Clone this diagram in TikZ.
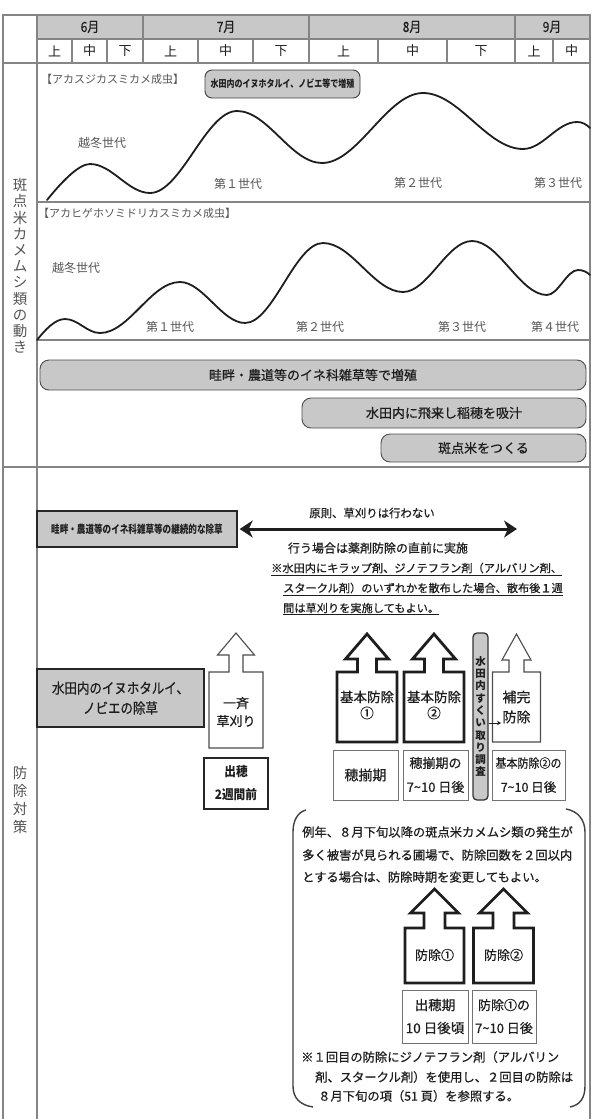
\documentclass[tikz,border=0pt]{standalone}
\usepackage{fontspec}
\usepackage{graphicx}
\setmainfont{Noto Sans CJK JP}
\newfontfamily\medfont{Noto Sans CJK JP}[FakeBold=0.6]
\usetikzlibrary{arrows.meta}
\newcommand{\cnd}[2][0.8]{\scalebox{#1}[1]{#2}}
\newcommand{\fs}[1]{\fontsize{#1}{#1}\selectfont}
\definecolor{boxgray}{HTML}{C8C8C8}
\definecolor{linegray}{HTML}{858585}
\definecolor{inkgray}{HTML}{555555}
\definecolor{ink}{HTML}{1E1E1E}
% block arrow: style, cx, half width, rect top, rect bottom, shaft half, head half, head base y, tip y
\newcommand{\blkarr}[9]{%
  \draw[#1] ({#2-#3},#5) -- ({#2-#3},#4) -- ({#2-#6},#4) -- ({#2-#6},#8) -- ({#2-#7},#8) -- (#2,#9) -- ({#2+#7},#8) -- ({#2+#6},#8) -- ({#2+#6},#4) -- ({#2+#3},#4) -- ({#2+#3},#5) -- cycle;}
\tikzset{
  tbl/.style={draw=linegray, line width=1.1pt},
  mon/.style={font=\medfont\fs{14}, text=ink},
  dek/.style={font=\fs{13}, text=ink},
  side/.style={font=\fontsize{14.5}{16.2}\selectfont, text=inkgray, align=center},
  plbl/.style={font=\fs{11}, text=inkgray, anchor=west},
  glbl/.style={font=\fs{12}, text=inkgray},
  wave/.style={line width=1.8pt, line cap=round, line join=round, draw=ink},
  gbar/.style={draw=black!70, line width=0.9pt, fill=boxgray, rounded corners=9pt, font=\medfont\fs{13}, text=ink},
  gbox/.style={draw=black!85, line width=1.4pt, fill=boxgray, text=ink, align=center},
  wbox/.style={draw=black!55, line width=1pt, fill=white, text=ink, align=center},
  thickarr/.style={draw=ink, line width=2.8pt, fill=white, line join=miter},
  thinarr/.style={draw=black!70, line width=1.1pt, fill=white, line join=miter},
  txt/.style={text=ink},
  dbl/.style={line width=3pt, draw=ink, {Stealth[length=13pt,width=17pt,inset=4pt]}-{Stealth[length=13pt,width=17pt,inset=4pt]}},
  brk/.style={draw=black!75, line width=1.4pt},
}
\begin{document}
\begin{tikzpicture}[x=1pt,y=-1pt, every node/.style={inner sep=0pt}]
\useasboundingbox (0,0) rectangle (592,1119);
\fill[white] (0,0) rectangle (592,1119);
% ---------- table frame ----------
\fill[boxgray] (37,15) rectangle (590,39);
\draw[tbl] (3,1119) -- (3,15) -- (590,15) -- (590,1119);
\draw[tbl] (37,15) -- (37,1119);
\draw[tbl] (37,39) -- (590,39);
\draw[tbl] (3,63) -- (590,63);
\foreach \x in {143,309,515} \draw[tbl] (\x,15) -- (\x,63);
\foreach \x in {72,107,198,253,378,447,553} \draw[tbl] (\x,39) -- (\x,63);
\draw[tbl] (37,202) -- (590,202);
\draw[tbl] (37,340) -- (590,340);
\draw[tbl] (3,467) -- (590,467);
% months
\node[mon] (m6) at (90,27) {\cnd[0.85]{6月}};
\node[mon] (m7) at (226,27) {\cnd[0.85]{7月}};
\node[mon] (m8) at (412,27) {\cnd[0.85]{8月}};
\node[mon] (m9) at (552,27) {\cnd[0.85]{9月}};
% dekads
\foreach \x/\t/\n in {54.5/上/d1,89.5/中/d2,125/下/d3,170.5/上/d4,225.5/中/d5,281/下/d6,343.5/上/d7,412.5/中/d8,481/下/d9,534/上/d10,571.5/中/d11}
  \node[dek] (\n) at (\x,51) {\t};
% side labels
\node[side] (sl1) at (20,266) {斑\\点\\米\\カ\\メ\\ム\\シ\\類\\の\\動\\き};
\node[side, font=\fontsize{14.5}{18}\selectfont] (sl2) at (20,800) {防\\除\\対\\策};
% ---------- panel 1 ----------
\node[plbl] (pl1) at (41,79) {【アカスジカスミカメ成虫】};
\node[gbar, rounded corners=7pt, minimum width=155pt, minimum height=28pt, font=\bfseries\fs{10}, draw=black!75] (pb) at (282.5,84) {\cnd[0.8]{水田内のイヌホタルイ、ノビエ等で増殖}};
\draw[wave] (47,200) .. controls (60,184) and (78,164) .. (90,164) .. controls (112,164) and (128,193) .. (150,193) .. controls (181,193) and (206,111) .. (237,111) .. controls (268,111) and (291,163) .. (322,163) .. controls (358,163) and (387,93) .. (423,93) .. controls (459,93) and (487,149) .. (523,149) .. controls (543,149) and (557,122) .. (577,122) .. controls (582,122) and (586,124) .. (590,128);
\node[glbl] (g10) at (102,143) {越冬世代};
\node[glbl] (g11) at (238,184) {第１世代};
\node[glbl] (g12) at (418,183) {第２世代};
\node[glbl] (g13) at (558,183) {第３世代};
% ---------- panel 2 ----------
\node[plbl] (pl2) at (38,213) {【アカヒゲホソミドリカスミカメ成虫】};
\draw[wave] (37,340) .. controls (45,330) and (55,319) .. (65,319) .. controls (78,319) and (87,333) .. (100,333) .. controls (129,333) and (151,282) .. (180,282) .. controls (203,282) and (222,323) .. (245,323) .. controls (273,323) and (295,243) .. (323,243) .. controls (352,243) and (374,292) .. (403,292) .. controls (428,292) and (447,241) .. (472,241) .. controls (499,241) and (520,295) .. (547,295) .. controls (558,295) and (567,270) .. (578,270) .. controls (583,270) and (587,272) .. (590,275);
\node[glbl] (g20) at (76,268) {越冬世代};
\node[glbl] (g21) at (170,327) {第１世代};
\node[glbl] (g22) at (320,327) {第２世代};
\node[glbl] (g23) at (462,327) {第３世代};
\node[glbl] (g24) at (555,327) {第４世代};
% ---------- bars ----------
\node[gbar, minimum width=546pt, minimum height=30pt] (b1) at (313,375) {畦畔・農道等のイネ科雑草等で増殖};
\node[gbar, minimum width=284pt, minimum height=30pt] (b2) at (444,413) {水田内に飛来し稲穂を吸汁};
\node[gbar, minimum width=205pt, minimum height=28pt] (b3) at (483.5,448) {斑点米をつくる};
% ---------- control: weeding ----------
\node[gbox, minimum width=200pt, minimum height=36pt, font=\bfseries\fs{11}] (wb) at (137,529) {\cnd[0.78]{畦畔・農道等のイネ科雑草等の継続的な除草}};
\coordinate (ae) at (517,529);
\draw[dbl] ([xshift=2pt]wb.east) -- (ae);
\node[txt, font=\medfont\fs{11.4}] (p1) at (372,513) {原則、草刈りは行わない};
\node[txt, font=\medfont\fs{12}] (p2) at (378,548) {行う場合は薬剤防除の直前に実施};
\node[txt, font=\medfont\fs{11.2}, anchor=west] (u1) at (271,568) {※水田内にキラップ剤、ジノテフラン剤（アルバリン剤、};
\node[txt, font=\medfont\fs{11.2}, anchor=west] (u2) at (283,588) {スタークル剤）のいずれかを散布した場合、散布後１週};
\node[txt, font=\medfont\fs{11.2}, anchor=west] (u3) at (283,608) {間は草刈りを実施してもよい。};
\foreach \u in {u1,u2,u3}
  \draw[line width=0.8pt, draw=ink] ([yshift=-1.5pt]\u.south west) -- ([yshift=-1.5pt]\u.south east);
% ---------- control: paddy weeding ----------
\node[gbox, minimum width=167pt, minimum height=58pt, font=\medfont\fontsize{14.5}{20}\selectfont] (sb) at (120.5,698) {\cnd[0.86]{水田内のイヌホタルイ、}\\\cnd[0.86]{ノビエの除草}};
% block arrows
\blkarr{thinarr}{236}{27}{672}{748}{7}{18.5}{655}{633}
\blkarr{thickarr}{367}{30}{672}{742}{9.5}{21.5}{659}{634}
\blkarr{thickarr}{434}{30}{672}{742}{9.5}{21.5}{659}{634}
\blkarr{thinarr}{516.5}{24}{672}{742}{7.5}{14.5}{660}{634}
\node[txt, font=\medfont\fontsize{13}{18}\selectfont, align=center] (it) at (236,712) {一斉\\草刈り};
\node[txt, font=\medfont\fontsize{13.5}{16}\selectfont, align=center] (k1) at (367,705) {基本防除\\①};
\node[txt, font=\medfont\fontsize{13.5}{16}\selectfont, align=center] (k2) at (434,705) {基本防除\\②};
\node[txt, font=\medfont\fontsize{14}{20}\selectfont, align=center] (hk) at (516.5,707) {補完\\防除};
% survey bar
\node[draw=black!80, line width=1.3pt, fill=boxgray, rounded corners=4pt, minimum width=15pt, minimum height=167pt, font=\bfseries\fontsize{10.5}{12.3}\selectfont, align=center, text=ink] (sv) at (480.5,716.5) {水\\田\\内\\す\\く\\い\\取\\り\\調\\査};
\coordinate (sa) at (501,723);
\draw[-{Stealth[length=4pt,width=4.5pt]}, line width=0.9pt, draw=ink] (sv.east |- sa) -- (sa);
% timing boxes
\node[gbox, fill=white, line width=1.3pt, minimum width=64pt, minimum height=51pt, font=\bfseries\fontsize{13}{23}\selectfont] (db) at (236,783.5) {\cnd[0.9]{出穂}\\\cnd[0.9]{2週間前}};
\node[wbox, minimum width=65pt, minimum height=50pt, font=\medfont\fs{14}] (hb1) at (365.5,775) {穂揃期};
\node[wbox, minimum width=65pt, minimum height=50pt, font=\medfont\fontsize{13}{24}\selectfont] (hb2) at (435.5,775) {穂揃期の\\7\textasciitilde10 日後};
\node[wbox, minimum width=73pt, minimum height=50pt, font=\medfont\fontsize{12.5}{24}\selectfont] (hb3) at (528.5,775) {\cnd[0.88]{基本防除②の}\\7\textasciitilde10 日後};
% ---------- bracket note ----------
\draw[brk] (306,810) .. controls (298,812) and (293,820) .. (293,832) -- (293,1086) .. controls (293,1098) and (300,1105) .. (313,1107);
\draw[brk] (566,809) .. controls (578,811) and (585,820) .. (585,832) -- (585,1086) .. controls (585,1098) and (580,1105) .. (570,1107);
\node[txt, font=\medfont\fs{12.3}, anchor=west] (t1) at (302,832) {例年、８月下旬以降の斑点米カメムシ類の発生が};
\node[txt, font=\medfont\fs{12.3}, anchor=west] (t2) at (302,855) {多く被害が見られる圃場で、防除回数を２回以内};
\node[txt, font=\medfont\fs{12.3}, anchor=west] (t3) at (302,877) {とする場合は、防除時期を変更してもよい。};
\blkarr{thickarr}{434.5}{29.5}{928}{983}{10.5}{24}{913}{889}
\blkarr{thickarr}{503.5}{30}{928}{983}{10.5}{24}{913}{889}
\node[txt, font=\medfont\fs{13}] (j1) at (434.5,955) {防除①};
\node[txt, font=\medfont\fs{13}] (j2) at (503.5,955) {防除②};
\node[wbox, minimum width=66pt, minimum height=53pt, font=\medfont\fontsize{13.5}{23}\selectfont] (bb1) at (435,1016.5) {出穂期\\10 日後頃};
\node[wbox, minimum width=64pt, minimum height=53pt, font=\medfont\fontsize{13}{23}\selectfont] (bb2) at (504,1016.5) {防除①の\\7\textasciitilde10 日後};
\node[txt, font=\medfont\fs{12.3}, anchor=west] (n1) at (301,1057) {※１回目の防除にジノテフラン剤（アルバリン};
\node[txt, font=\medfont\fs{12.3}, anchor=west] (n2) at (315,1077) {剤、スタークル剤）を使用し、２回目の防除は};
\node[txt, font=\medfont\fs{12.3}, anchor=west] (n3) at (318,1096) {８月下旬の項（51 頁）を参照する。};
\end{tikzpicture}
\end{document}
